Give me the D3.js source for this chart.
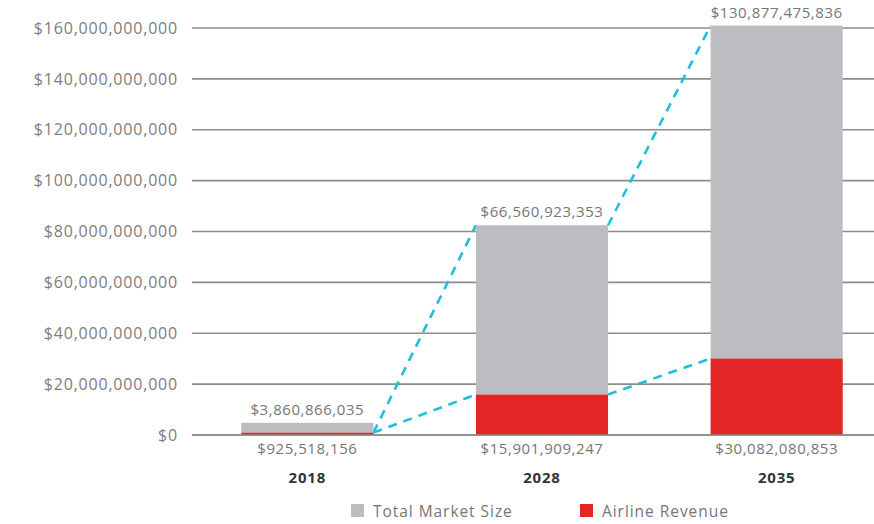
<!DOCTYPE html>
<html>
<head>
<meta charset="utf-8">
<script src="https://cdn.jsdelivr.net/npm/d3@7"></script>
<style>
  html, body { margin: 0; padding: 0; background: #fff; }
  svg { display: block; font-family: "Open Sans", sans-serif; }
</style>
</head>
<body>
<svg id="chart" width="874" height="524"></svg>
<script>
const years = ["2018", "2028", "2035"];
const airlineRevenue = [925518156, 15901909247, 30082080853];
const totalMarketSize = [3860866035, 66560923353, 130877475836];
const yTicks = [0, 20e9, 40e9, 60e9, 80e9, 100e9, 120e9, 140e9, 160e9];
const legendLabels = ["Total Market Size", "Airline Revenue"];

const colors = { total: "#bcbdc0", airline: "#e32526", line: "#1cbfdc" };

const svg = d3.select("#chart");

const x = d3.scaleBand().domain(years).range([190, 894]).paddingInner(0.437).paddingOuter(0.2185);
const y = d3.scaleLinear().domain([0, 160e9]).range([435, 28]);

const fmt = v => "$" + d3.format(",")(v);

// gridlines
const grid = svg.append("g");
grid.selectAll("line").data(yTicks).join("line")
  .attr("x1", 192).attr("x2", 874)
  .attr("y1", d => y(d)).attr("y2", d => y(d))
  .attr("stroke", "#8c8c8c").attr("stroke-width", 1.6);

// y axis labels
const yAxis = d3.axisLeft(y).tickValues(yTicks).tickFormat(d => fmt(d)).tickSize(0).tickPadding(0);
const ya = svg.append("g").attr("transform", "translate(178,0)").call(yAxis);
ya.select(".domain").remove();
ya.selectAll("text")
  .attr("font-size", 16).attr("fill", "#7d7d7d")
  .attr("font-family", "Open Sans").style("letter-spacing", "0.8px");

// dashed connector lines (behind bars)
const data = years.map((yr, i) => ({ yr, a: airlineRevenue[i], t: totalMarketSize[i], s: airlineRevenue[i] + totalMarketSize[i] }));
const left = d => x(d.yr), right = d => x(d.yr) + x.bandwidth();
const segs = [];
for (let i = 0; i < data.length - 1; i++) {
  const p = data[i], n = data[i + 1];
  segs.push([[right(p), y(i === 0 ? p.a : p.s)], [left(n), y(n.s)]]);
  segs.push([[right(p), y(p.a)], [left(n), y(n.a)]]);
}
const lineGen = d3.line();
svg.append("g").selectAll("path").data(segs).join("path")
  .attr("d", d => lineGen(d))
  .attr("fill", "none").attr("stroke", colors.line)
  .attr("stroke-width", 2.6).attr("stroke-dasharray", "9,7");

// bars
const bars = svg.append("g");
bars.selectAll(".tot").data(data).join("rect").attr("class", "tot")
  .attr("x", d => x(d.yr)).attr("width", x.bandwidth())
  .attr("y", d => y(d.s)).attr("height", d => y(d.a) - y(d.s))
  .attr("fill", colors.total);
bars.selectAll(".air").data(data).join("rect").attr("class", "air")
  .attr("x", d => x(d.yr)).attr("width", x.bandwidth())
  .attr("y", d => y(d.a)).attr("height", d => y(0) - y(d.a))
  .attr("fill", colors.airline);

// baseline redraw
svg.append("line").attr("x1", 192).attr("x2", 874).attr("y1", y(0)).attr("y2", y(0))
  .attr("stroke", "#8c8c8c").attr("stroke-width", 1.6);

// labels
const cx = d => x(d.yr) + x.bandwidth() / 2;
svg.selectAll(".tl").data(data).join("text").attr("class", "tl")
  .attr("x", cx).attr("y", d => y(d.s) - 8)
  .attr("text-anchor", "middle").attr("font-size", 15).attr("fill", "#767676")
  .style("letter-spacing", "0.55px")
  .text(d => fmt(d.t));
svg.selectAll(".al").data(data).join("text").attr("class", "al")
  .attr("x", cx).attr("y", 454)
  .attr("text-anchor", "middle").attr("font-size", 15).attr("fill", "#767676")
  .style("letter-spacing", "0.55px")
  .text(d => fmt(d.a));
svg.selectAll(".yr").data(data).join("text").attr("class", "yr")
  .attr("x", cx).attr("y", 483)
  .attr("text-anchor", "middle").attr("font-size", 15).attr("font-weight", 700).attr("fill", "#333")
  .style("letter-spacing", "0.8px")
  .text(d => d.yr);

// legend
const legendX = [351, 580];
const legendColors = [colors.total, colors.airline];
const lg = svg.append("g");
legendLabels.forEach((lab, i) => {
  lg.append("rect").attr("x", legendX[i]).attr("y", 504).attr("width", 13).attr("height", 13).attr("fill", legendColors[i]);
  lg.append("text").attr("x", legendX[i] + 22).attr("y", 517)
    .attr("font-size", 15.5).attr("fill", "#767676").style("letter-spacing", "0.95px").text(lab);
});
</script>
</body>
</html>
